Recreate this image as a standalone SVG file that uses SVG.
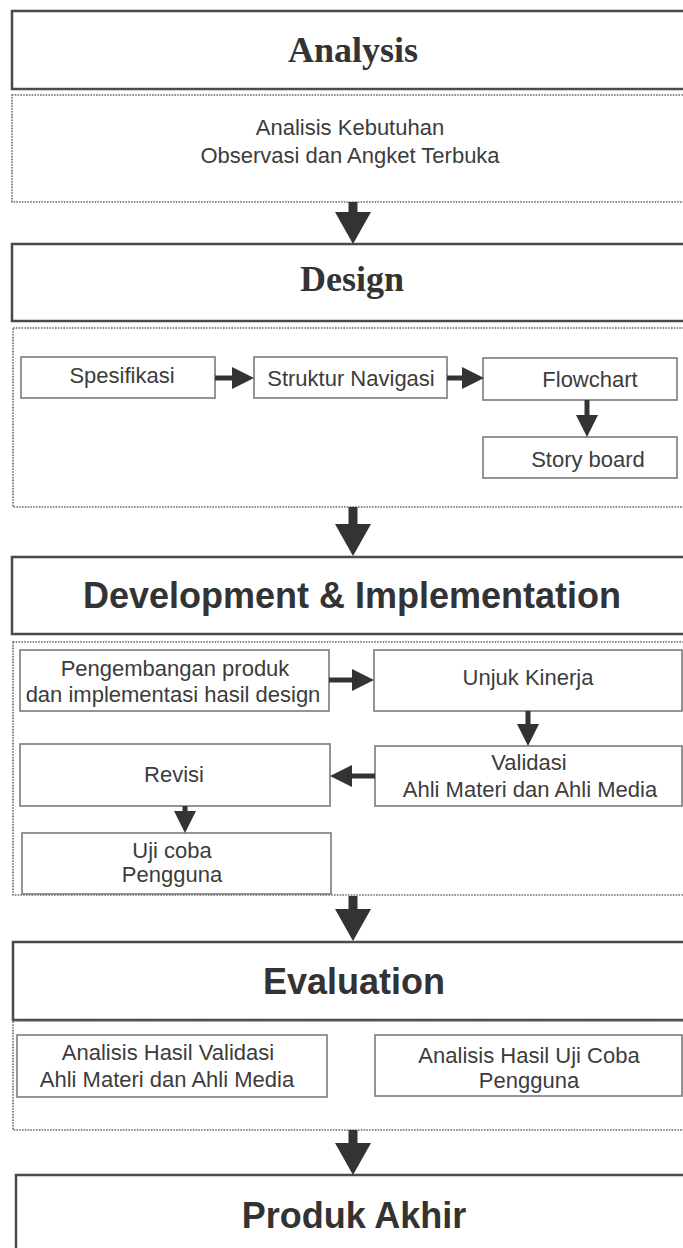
<svg xmlns="http://www.w3.org/2000/svg" width="683" height="1248" viewBox="0 0 683 1248">
<style>
.main{fill:#fff;stroke:#4a4a4a;stroke-width:2.5}
.dot{fill:none;stroke:#6a6a6a;stroke-width:1.6;stroke-dasharray:1.6 1.2}
.box{fill:#fff;stroke:#7a7a7a;stroke-width:1.6}
.ser{font-family:"Liberation Serif","Times New Roman",serif;font-weight:bold;font-size:36px;fill:#333;text-anchor:middle}
.hd{font-family:"Liberation Sans",Arial,sans-serif;font-weight:bold;font-size:36px;fill:#333;text-anchor:middle}
.tx{font-family:"Liberation Sans",Arial,sans-serif;font-size:22px;fill:#3c3c3c;text-anchor:middle}
.big{stroke:#333;stroke-width:9;fill:none}
.sm{stroke:#333;stroke-width:5;fill:none}
</style>
<defs>
<marker id="hb" markerUnits="userSpaceOnUse" markerWidth="32" markerHeight="36" viewBox="0 0 32 36" refX="0" refY="18" orient="auto"><path d="M0,0 L32,18 L0,36 z" fill="#333"/></marker>
<marker id="hs" markerUnits="userSpaceOnUse" markerWidth="22" markerHeight="22" viewBox="0 0 22 22" refX="0" refY="11" orient="auto"><path d="M0,0 L22,11 L0,22 z" fill="#333"/></marker>
</defs>
<rect width="683" height="1248" fill="#fff"/>

<g id="analysis">
<rect class="main" x="12" y="11" width="690" height="78"/>
<text class="ser" x="353" y="62">Analysis</text>
</g>
<g id="analysis-detail">
<rect class="dot" x="12" y="95" width="690" height="107"/>
<text class="tx" x="350" y="135">Analisis Kebutuhan</text>
<text class="tx" x="350" y="163">Observasi dan Angket Terbuka</text>
</g>

<g id="design">
<rect class="main" x="12" y="244" width="690" height="77"/>
<text class="ser" x="352" y="291">Design</text>
</g>
<g id="design-detail">
<rect class="dot" x="13" y="328" width="690" height="179"/>
</g>
<g id="spesifikasi">
<rect class="box" x="21" y="357" width="194" height="41"/>
<text class="tx" x="122" y="383">Spesifikasi</text>
</g>
<g id="struktur">
<rect class="box" x="254" y="357" width="193" height="41"/>
<text class="tx" x="351" y="386">Struktur Navigasi</text>
</g>
<g id="flowchart">
<rect class="box" x="483" y="358" width="194" height="42"/>
<text class="tx" x="590" y="387">Flowchart</text>
</g>
<g id="storyboard">
<rect class="box" x="483" y="437" width="194" height="41"/>
<text class="tx" x="588" y="467">Story board</text>
</g>

<g id="development">
<rect class="main" x="12" y="557" width="690" height="77"/>
<text class="hd" x="352" y="608">Development &amp; Implementation</text>
</g>
<g id="development-detail">
<rect class="dot" x="13" y="642" width="690" height="253"/>
</g>
<g id="pengembangan">
<rect class="box" x="20" y="650" width="309" height="61"/>
<text class="tx" x="175" y="676">Pengembangan produk</text>
<text class="tx" x="173" y="702">dan implementasi hasil design</text>
</g>
<g id="unjuk">
<rect class="box" x="374" y="650" width="308" height="61"/>
<text class="tx" x="528" y="685">Unjuk Kinerja</text>
</g>
<g id="validasi">
<rect class="box" x="375" y="746" width="307" height="60"/>
<text class="tx" x="529" y="770">Validasi</text>
<text class="tx" x="530" y="797">Ahli Materi dan Ahli Media</text>
</g>
<g id="revisi">
<rect class="box" x="20" y="744" width="310" height="62"/>
<text class="tx" x="174" y="782">Revisi</text>
</g>
<g id="ujicoba">
<rect class="box" x="22" y="833" width="309" height="61"/>
<text class="tx" x="172" y="858">Uji coba</text>
<text class="tx" x="172" y="882">Pengguna</text>
</g>

<g id="evaluation">
<rect class="main" x="13" y="942" width="690" height="78"/>
<text class="hd" x="354" y="994">Evaluation</text>
</g>
<g id="evaluation-detail">
<rect class="dot" x="13" y="1021" width="690" height="109"/>
</g>
<g id="hasil-validasi">
<rect class="box" x="17" y="1035" width="310" height="62"/>
<text class="tx" x="168" y="1060">Analisis Hasil Validasi</text>
<text class="tx" x="167" y="1087">Ahli Materi dan Ahli Media</text>
</g>
<g id="hasil-ujicoba">
<rect class="box" x="375" y="1035" width="307" height="61"/>
<text class="tx" x="529" y="1063">Analisis Hasil Uji Coba</text>
<text class="tx" x="529" y="1088">Pengguna</text>
</g>

<g id="produk">
<rect class="main" x="16" y="1175" width="690" height="100"/>
<text class="hd" x="354" y="1228">Produk Akhir</text>
</g>

<g id="connectors">
<line class="big" x1="353" y1="202" x2="353" y2="212" marker-end="url(#hb)"/>
<line class="big" x1="353" y1="507" x2="353" y2="524" marker-end="url(#hb)"/>
<line class="big" x1="353" y1="896" x2="353" y2="909" marker-end="url(#hb)"/>
<line class="big" x1="353" y1="1130" x2="353" y2="1143" marker-end="url(#hb)"/>
<line class="sm" x1="215" y1="378" x2="232" y2="378" marker-end="url(#hs)"/>
<line class="sm" x1="447" y1="378" x2="462" y2="378" marker-end="url(#hs)"/>
<line class="sm" x1="587" y1="400" x2="587" y2="415" marker-end="url(#hs)"/>
<line class="sm" x1="329" y1="680" x2="352" y2="680" marker-end="url(#hs)"/>
<line class="sm" x1="528" y1="711" x2="528" y2="724" marker-end="url(#hs)"/>
<line class="sm" x1="375" y1="776" x2="352" y2="776" marker-end="url(#hs)"/>
<line class="sm" x1="185" y1="806" x2="185" y2="811" marker-end="url(#hs)"/>
</g>
</svg>
